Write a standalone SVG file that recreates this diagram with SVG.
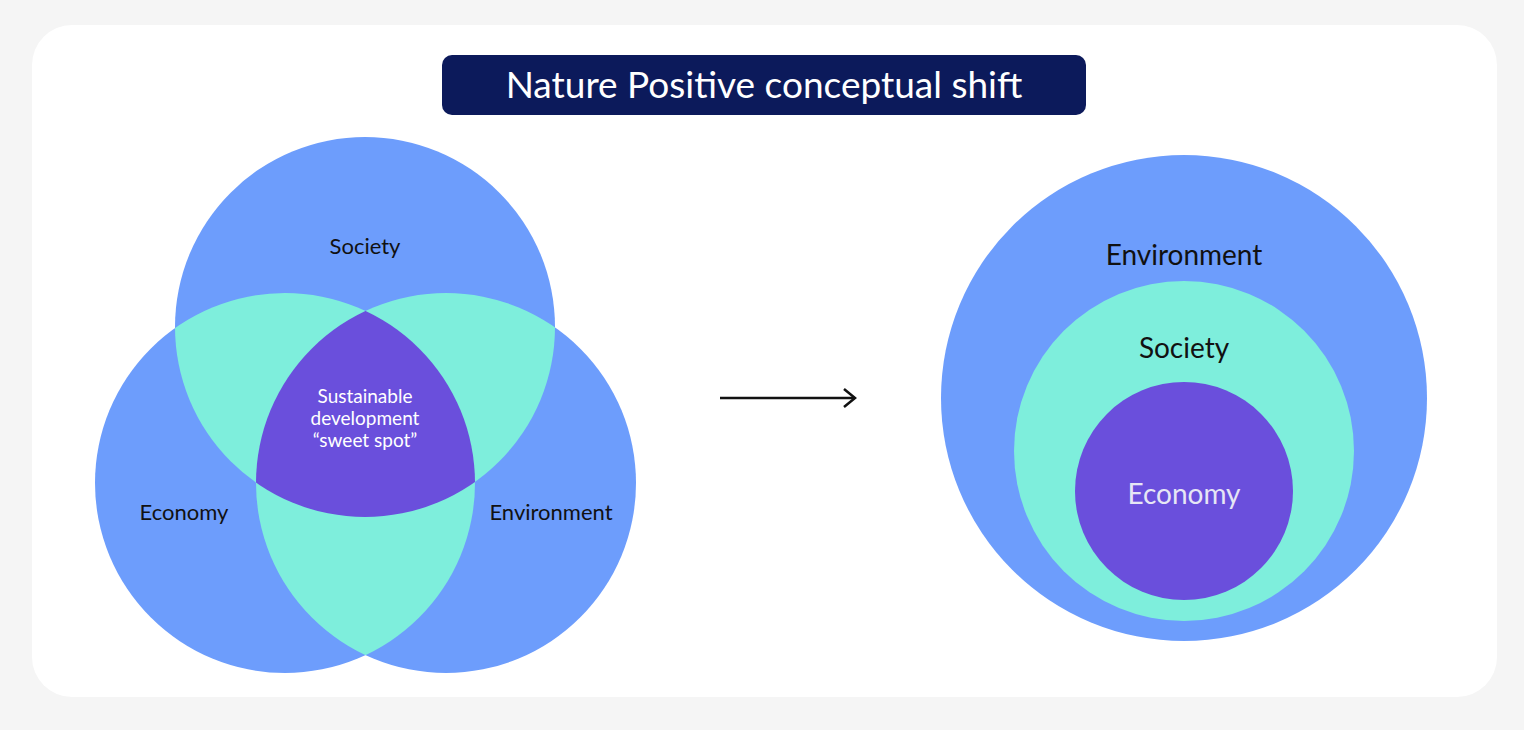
<svg xmlns="http://www.w3.org/2000/svg" width="1524" height="730" viewBox="0 0 1524 730">
<style>
.b{fill:#6d9dfc}.t{fill:#7eeedc}.p{fill:#6a4fdc}
text{font-family:Lato,"Open Sans",sans-serif;text-anchor:middle}
.lab{font-size:22px;fill:#111}
.big{font-size:28px;fill:#111}
.lt{fill:#e6e6f5}
</style>
<defs>
<clipPath id="cS"><circle cx="365" cy="327" r="190"/></clipPath>
<clipPath id="cE"><circle cx="285" cy="483" r="190"/></clipPath>
<clipPath id="cV"><circle cx="446" cy="483" r="190"/></clipPath>
<marker id="ah" markerWidth="14" markerHeight="20" refX="12" refY="10" orient="auto" markerUnits="userSpaceOnUse"><path d="M1,1 L12,10 L1,19" fill="none" stroke="#111" stroke-width="2.5"/></marker>
</defs>
<rect width="1524" height="730" fill="#f5f5f5"/>
<rect x="32" y="25" width="1465" height="672" rx="40" fill="#fff"/>
<g id="title"><rect x="442" y="55" width="644" height="60" rx="10" fill="#0c1a5b"/>
<text x="764" y="98" font-size="37" fill="#fff">Nature Positive conceptual shift</text></g>
<g id="society"><circle class="b" cx="365" cy="327" r="190"/></g>
<g id="economy"><circle class="b" cx="285" cy="483" r="190"/></g>
<g id="environment"><circle class="b" cx="446" cy="483" r="190"/></g>
<g id="overlaps">
<circle class="t" cx="365" cy="327" r="190" clip-path="url(#cE)"/>
<circle class="t" cx="365" cy="327" r="190" clip-path="url(#cV)"/>
<circle class="t" cx="285" cy="483" r="190" clip-path="url(#cV)"/>
<g clip-path="url(#cE)"><circle class="p" cx="365" cy="327" r="190" clip-path="url(#cV)"/></g>
</g>
<text class="lab" x="365" y="254">Society</text>
<text class="lab" x="184" y="520">Economy</text>
<text class="lab" x="551" y="520">Environment</text>
<g id="sweet" fill="#fff" font-size="19"><text x="365" y="403">Sustainable</text><text x="365" y="425">development</text><text x="365" y="447">“sweet spot”</text></g>
<g id="connectors"><line x1="720" y1="398" x2="855" y2="398" stroke="#111" stroke-width="2.5" marker-end="url(#ah)"/></g>
<g id="env2"><circle class="b" cx="1184" cy="398" r="243"/><text class="big" x="1184" y="265">Environment</text></g>
<g id="soc2"><circle class="t" cx="1184" cy="451" r="170"/><text class="big" x="1184" y="358">Society</text></g>
<g id="eco2"><circle class="p" cx="1184" cy="491" r="109"/><text class="big lt" x="1184" y="504">Economy</text></g>
</svg>
